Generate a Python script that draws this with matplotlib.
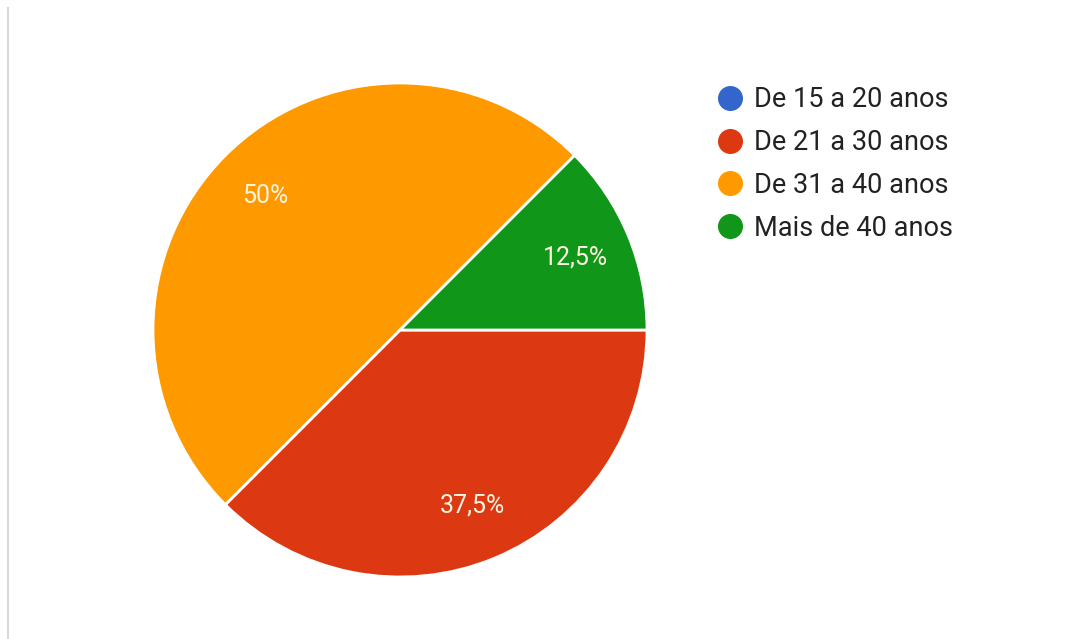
import matplotlib.pyplot as plt
from matplotlib.lines import Line2D

# dados
faixas = ['De 15 a 20 anos', 'De 21 a 30 anos', 'De 31 a 40 anos', 'Mais de 40 anos']
valores = [0, 37.5, 50, 12.5]
cores = ['#3366CC', '#DC3912', '#FF9900', '#109618']


def fmt(p):
    if p <= 0:
        return ''
    s = '{:.1f}'.format(p).replace('.0', '').replace('.', ',')
    return s + '%'


plt.rcParams['font.family'] = ['Roboto', 'DejaVu Sans']

fig = plt.figure(figsize=(10.76, 6.39), dpi=100)
W, H = 1076, 639
cx, cy, r = 400, 330, 247
ax = fig.add_axes([(cx - r) / W, (H - cy - r) / H, 2 * r / W, 2 * r / H])

wedges, textos, autotextos = ax.pie(
    valores, colors=cores, startangle=0, counterclock=False,
    autopct=fmt, pctdistance=0.77,
    wedgeprops=dict(edgecolor='white', linewidth=2),
    textprops=dict(color='#fdf3e0', fontsize=18))
ax.set_xlim(-1, 1)
ax.set_ylim(-1, 1)
ax.set_aspect('equal')

# linha cinza na borda esquerda
fig.add_artist(Line2D([8 / W, 8 / W], [0, 1 - 8 / H], color='#d8d8d8', linewidth=1.5))

handles = [Line2D([], [], marker='o', linestyle='', markersize=17,
                  markerfacecolor=c, markeredgecolor=c) for c in cores]
fig.legend(handles, faixas, loc='upper left', bbox_to_anchor=(685 / W, 1 - 62 / H),
           frameon=False, fontsize=19.5, labelspacing=0.58, handletextpad=0.15,
           handlelength=1.5, labelcolor='#222222')

fig.savefig('out.png', dpi=100, facecolor='white')
